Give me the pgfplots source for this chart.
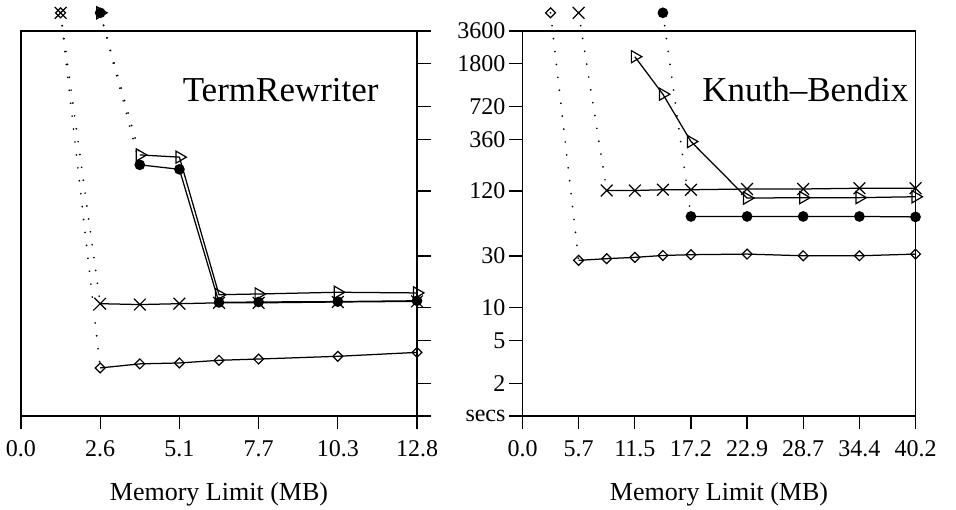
\documentclass[border=0pt]{standalone}
\usepackage{fontspec}
\setmainfont{Liberation Serif}
\usepackage{pgfplots}
\pgfplotsset{compat=1.18}
\pgfplotsset{
  every axis/.append style={
    scale only axis, height=385pt,
    ymode=log, ymin=1, ymax=3600,
    ytick={1,2,5,10,30,120,360,720,1800,3600},
    yminorticks=false, xminorticks=false,
    tick align=outside,
    major tick length=13.5pt,
    axis line style={line width=1.4pt},
    tick style={line width=1.3pt, black},
    clip=false,
    tick label style={font=\fontsize{24}{26}\selectfont},
    xticklabel style={anchor=base, yshift=-27pt},
    xlabel style={font=\fontsize{26}{28}\selectfont, at={(axis description cs:0.5,0)}, anchor=base, yshift=-84pt},
    xlabel={Memory Limit (MB)},
    xtick pos=lower,
  },
  every axis plot/.append style={line width=1.25pt, black},
}
\tikzset{
  tri/.style={mark=triangle, mark size=7pt, mark options={solid, rotate=-90, fill=white, line width=1.2pt}},
  dia/.style={mark=square, mark size=3.5pt, mark options={solid, rotate=45, fill=white, line width=1.2pt}},
  crs/.style={mark=x, mark size=8.3pt, mark options={solid, line width=1.2pt}},
  cir/.style={mark=*, mark size=4.7pt, mark options={solid}},
  dotl/.style={line width=1.9pt, line cap=round, dash pattern=on 0pt off 13pt},
}
\begin{document}
\begin{tikzpicture}[x=1pt,y=1pt]
\useasboundingbox (-21,-93) rectangle (935,416);
% ---------------- left panel ----------------
\begin{axis}[at={(0,0)}, anchor=south west, width=396pt,
  xmin=0, xmax=12.8,
  xtick={0,2.56,5.12,7.68,10.24,12.8},
  xticklabels={0.0,2.6,5.1,7.7,10.3,12.8},
  ytick pos=right, yticklabels={}]
\addplot[only marks, crs] coordinates {(1.28,5300)};
\addplot[only marks, dia] coordinates {(1.28,5300)};
\addplot[only marks, cir] coordinates {(2.56,5300)};
\addplot[only marks, tri] coordinates {(2.56,5300)};
\addplot[dotl, no marks] coordinates {(1.28,5300) (2.56,10.9)};
\addplot[dotl, no marks] coordinates {(1.28,5300) (2.56,2.78)};
\addplot[dotl, no marks] coordinates {(2.56,5300) (3.84,258)};
\addplot[dotl, no marks] coordinates {(2.56,5300) (3.84,209)};
\addplot[dia] coordinates {(2.56,2.78) (3.84,3.03) (5.12,3.09) (6.4,3.27) (7.68,3.36) (10.24,3.56) (12.8,3.87)};
\addplot[crs] coordinates {(2.56,10.9) (3.84,10.7) (5.12,10.9) (6.4,11.1) (7.68,11.1) (10.24,11.3) (12.8,11.45)};
\addplot[cir] coordinates {(3.84,209) (5.12,190) (6.4,11.2) (7.68,11.3) (10.24,11.4) (12.8,11.6)};
\addplot[tri] coordinates {(3.84,258) (5.12,246) (6.4,13.2) (7.68,13.4) (10.24,13.9) (12.8,13.7)};
\node[anchor=base west, font=\fontsize{35}{40}\selectfont, inner sep=0pt] at (rel axis cs:0.408,0.816) {TermRewriter};
\end{axis}
% ---------------- right panel ----------------
\begin{axis}[at={(513,0)}, anchor=south west, width=393pt,
  xmin=0, xmax=40.2,
  xtick={0,5.743,11.486,17.229,22.971,28.714,34.457,40.2},
  xticklabels={0.0,5.7,11.5,17.2,22.9,28.7,34.4,40.2},
  ytick pos=left,
  yticklabels={secs,2,5,10,30,120,360,720,1800,3600}]
\addplot[only marks, dia] coordinates {(2.87,5300)};
\addplot[only marks, crs] coordinates {(5.74,5300)};
\addplot[only marks, cir] coordinates {(14.36,5300)};
\addplot[dotl, no marks] coordinates {(2.87,5300) (5.74,27.4)};
\addplot[dotl, no marks] coordinates {(5.74,5300) (8.61,121)};
\addplot[dotl, no marks] coordinates {(14.36,5300) (17.23,69.7)};
\addplot[dia] coordinates {(5.74,27.4) (8.61,28.4) (11.49,29.2) (14.36,30.4) (17.23,30.9) (22.97,31.3) (28.71,30.2) (34.46,30.2) (40.2,31.3)};
\addplot[crs] coordinates {(8.61,121) (11.49,121) (14.36,123) (17.23,123) (22.97,125) (28.71,125) (34.46,127) (40.2,127)};
\addplot[cir] coordinates {(17.23,69.7) (22.97,69.7) (28.71,69.7) (34.46,69.7) (40.2,69)};
\addplot[tri] coordinates {(11.49,2084) (14.36,938) (17.23,343) (22.97,103) (28.71,104) (34.46,104) (40.2,106)};
\node[anchor=base west, font=\fontsize{35}{40}\selectfont, inner sep=0pt] at (rel axis cs:0.457,0.816) {Knuth--Bendix};
\end{axis}
\end{tikzpicture}
\end{document}
